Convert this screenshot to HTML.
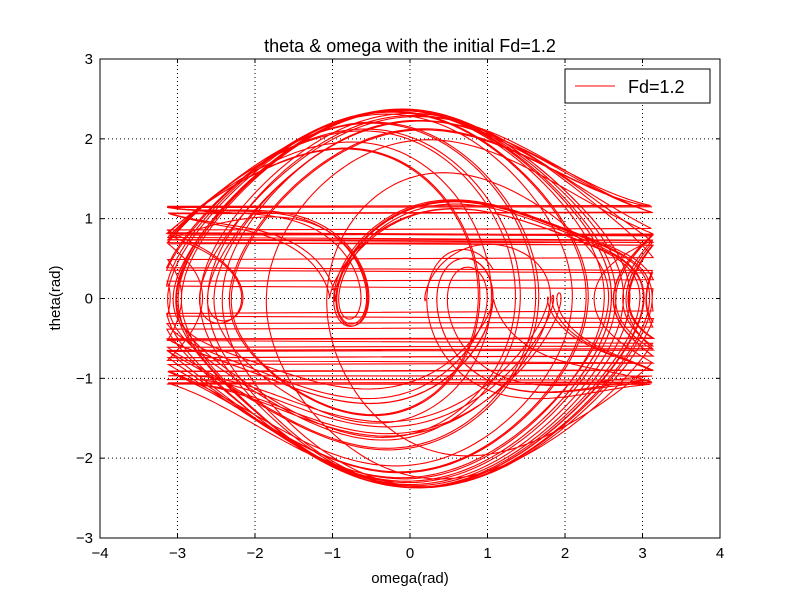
<!DOCTYPE html>
<html>
<head>
<meta charset="utf-8">
<style>
html,body{margin:0;padding:0;background:#fff;}
svg{display:block;font-family:"Liberation Sans",sans-serif;}
</style>
</head>
<body>
<svg id="chart" width="800" height="598" viewBox="0 0 800 598">
  <rect x="0" y="0" width="800" height="598" fill="#fff"/>
  <g id="grid"></g>
  <g id="plot"></g>
  <rect x="100" y="59" width="620" height="479" fill="none" stroke="#000" stroke-width="1"/>
  <g id="ticks"></g>
  <text x="410" y="52" text-anchor="middle" font-size="18">theta &amp; omega with the initial Fd=1.2</text>
  <text x="410" y="583" text-anchor="middle" font-size="15">omega(rad)</text>
  <text x="60" y="298" text-anchor="middle" font-size="15" transform="rotate(-90 60 298)">theta(rad)</text>
  <g>
    <rect x="565" y="69" width="145" height="34" fill="#fff" stroke="#000" stroke-width="1"/>
    <line x1="575" y1="86" x2="615" y2="86" stroke="#f00" stroke-width="1"/>
    <text x="628" y="93" font-size="18">Fd=1.2</text>
  </g>
</svg>
<script>
// parameters of the driven damped pendulum whose trajectory is plotted
const params = [1.2, 0.5, 2/3, 1.0]; // Fd, q, OmegaD, g/l
const initState = [0.2, 0.0];        // theta0, omega0
const simSettings = [0.04, 400];     // dt, tEnd
const xTicks = [-4,-3,-2,-1,0,1,2,3,4];
const yTicks = [-3,-2,-1,0,1,2,3];

const X0=100,X1=720,Y0=538,Y1=59;
const sx=v=>X0+(v+4)/8*(X1-X0);
const sy=v=>Y0-(v+3)/6*(Y0-Y1);
const NS='http://www.w3.org/2000/svg';

const [Fd,q,OD,gl]=params;
let th=initState[0], om=initState[1], t=0;
const dt=simSettings[0], tEnd=simSettings[1];
const thetaVals=[th], omegaVals=[om];
while(t<tEnd){
  om += (-gl*Math.sin(th) - q*om + Fd*Math.sin(OD*t))*dt;
  th += om*dt;
  if(th>Math.PI) th-=2*Math.PI;
  if(th<-Math.PI) th+=2*Math.PI;
  t+=dt;
  thetaVals.push(th); omegaVals.push(om);
}
let d='';
for(let i=0;i<thetaVals.length;i++){
  d+=(i?'L':'M')+sx(thetaVals[i]).toFixed(1)+' '+sy(omegaVals[i]).toFixed(1);
}
const clip=document.createElementNS(NS,'clipPath');
clip.setAttribute('id','clipA');
const cr=document.createElementNS(NS,'rect');
cr.setAttribute('x',X0);cr.setAttribute('y',Y1);cr.setAttribute('width',X1-X0);cr.setAttribute('height',Y0-Y1);
clip.appendChild(cr);
document.getElementById('chart').appendChild(clip);
const p=document.createElementNS(NS,'path');
p.setAttribute('d',d);p.setAttribute('fill','none');p.setAttribute('stroke','#f00');p.setAttribute('stroke-width','1.1');
p.setAttribute('clip-path','url(#clipA)');


document.getElementById('plot').appendChild(p);

const grid=document.getElementById('grid'), ticks=document.getElementById('ticks');
function ln(g,x1,y1,x2,y2,dash){
  const l=document.createElementNS(NS,'line');
  l.setAttribute('x1',x1);l.setAttribute('y1',y1);l.setAttribute('x2',x2);l.setAttribute('y2',y2);
  l.setAttribute('stroke','#000');l.setAttribute('stroke-width','1');
  if(dash) l.setAttribute('stroke-dasharray','1,3');
  g.appendChild(l); return l;
}
function tx(x,y,s,anchor){
  const e=document.createElementNS(NS,'text');
  e.setAttribute('x',x);e.setAttribute('y',y);e.setAttribute('font-size','15');e.setAttribute('text-anchor',anchor);
  e.textContent=s; ticks.appendChild(e); return e;
}
xTicks.forEach(v=>{
  const x=sx(v);
  const g=ln(grid,x,Y0,x,Y1,true);
  
  
  ln(ticks,x,Y0,x,Y0-4);ln(ticks,x,Y1,x,Y1+4);
  const e=tx(x,Y0+20,(v<0?'\u2212'+(-v):''+v),'middle');
  
  
});
yTicks.forEach(v=>{
  const y=sy(v);
  const g=ln(grid,X0,y,X1,y,true);
  
  
  ln(ticks,X0,y,X0+4,y);ln(ticks,X1,y,X1-4,y);
  const e=tx(X0-7,y+5,(v<0?'\u2212'+(-v):''+v),'end');
  
  
});
</script>
</body>
</html>
